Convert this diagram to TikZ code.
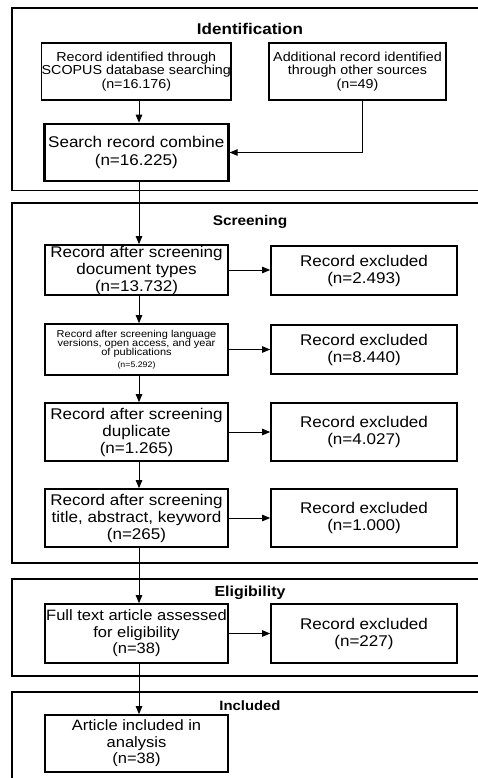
\documentclass[tikz,border=0pt]{standalone}
\usepackage{fontspec}
\setmainfont{Liberation Sans}[FakeStretch=1.1]
\usetikzlibrary{arrows.meta,calc}
\begin{document}
\begin{tikzpicture}[x=1pt,y=-1pt,
  frame/.style={draw, line width=1.1pt},
  box/.style={draw, line width=1.7pt, align=center, inner sep=0pt,
    font=\fontsize{15.5}{17}\selectfont},
  lcol/.style={minimum width=183pt},
  rcol/.style={minimum width=186pt},
  stitle/.style={font=\bfseries\fontsize{14.5}{16}\selectfont, inner sep=0pt},
  arr/.style={line width=0.9pt, -{Triangle[length=8pt,width=6.5pt]}}
]
\useasboundingbox (0,0) rectangle (478,778);
\clip (0,0) rectangle (478,778);

% section frames
\draw[frame] (12,8) rectangle (495,190.7);
\draw[frame] (12,203) rectangle (495,563);
\draw[frame] (12,579) rectangle (495,676);
\draw[frame] (12,692) rectangle (495,800);

\node[stitle, font=\bfseries\fontsize{15.5}{17}\selectfont] (tid) at (250,29) {Identification};
\node[stitle, font=\bfseries\fontsize{14}{16}\selectfont] (tsc) at (250,222) {Screening};
\node[stitle] (tel) at (250,593) {Eligibility};
\node[stitle, font=\bfseries\fontsize{13.5}{16}\selectfont] (tin) at (250,706) {Included};

% identification
\node[box, line width=1.4pt, minimum width=184pt, minimum height=57pt,
      font=\fontsize{13}{13.5}\selectfont] (b1) at (136.3,71.5)
  {Record identified through\\SCOPUS database searching\\(n=16.176)};
\node[box, line width=1.4pt, minimum width=177pt, minimum height=57pt,
      font=\fontsize{13}{13.5}\selectfont] (b2) at (357.5,71.5)
  {Additional record identified\\through other sources\\(n=49)};
\node[box, line width=2.6pt, minimum width=184pt, minimum height=57pt,
      font=\fontsize{15.5}{18}\selectfont] (sc) at (136.3,152.5)
  {Search record combine\\(n=16.225)};

% screening
\node[box, lcol, minimum height=50pt] (s1) at (136.5,270)
  {Record after screening\\document types\\(n=13.732)};
\node[box, rcol, minimum height=49pt] (e1) at (364,270.5)
  {Record excluded\\(n=2.493)};
\node[box, lcol, minimum height=51pt, font=\fontsize{10}{9.4}\selectfont] (s2) at (136.5,349.5)
  {Record after screening language\\versions, open access, and year\\of publications\\[2pt]{\fontsize{8}{8}\selectfont(n=5.292)}};
\node[box, rcol, minimum height=49pt] (e2) at (364,349.5)
  {Record excluded\\(n=8.440)};
\node[box, lcol, minimum height=58pt] (s3) at (136.5,432)
  {Record after screening\\duplicate\\(n=1.265)};
\node[box, rcol, minimum height=58pt] (e3) at (364,432)
  {Record excluded\\(n=4.027)};
\node[box, lcol, minimum height=58pt] (s4) at (136.5,518)
  {Record after screening\\title, abstract, keyword\\(n=265)};
\node[box, rcol, minimum height=58pt] (e4) at (364,518)
  {Record excluded\\(n=1.000)};

% eligibility
\node[box, lcol, minimum height=59pt, font=\fontsize{15}{16.5}\selectfont] (f1) at (136.5,633.5)
  {Full text article assessed\\for eligibility\\(n=38)};
\node[box, rcol, minimum height=59pt] (e5) at (364,633.5)
  {Record excluded\\(n=227)};

% included
\node[box, lcol, minimum height=57pt, font=\fontsize{15}{16.5}\selectfont] (a1) at (136.5,743.5)
  {Article included in\\analysis\\(n=38)};

% connectors
\coordinate (col) at (139,0);
\coordinate (c2) at (362,0);
\draw[arr] (b1.south -| col) -- (sc.north -| col);
\draw[arr] (b2.south -| c2) |- (sc.east);
\draw[arr] (sc.south -| col) -- (s1.north -| col);
\draw[arr] (s1.south -| col) -- (s2.north -| col);
\draw[arr] (s2.south -| col) -- (s3.north -| col);
\draw[arr] (s3.south -| col) -- (s4.north -| col);
\draw[arr] (s4.south -| col) -- (f1.north -| col);
\draw[arr] (f1.south -| col) -- (a1.north -| col);
\draw[arr] (s1.east) -- (s1.east -| e1.west);
\draw[arr] (s2.east) -- (s2.east -| e2.west);
\draw[arr] (s3.east) -- (s3.east -| e3.west);
\draw[arr] (s4.east) -- (s4.east -| e4.west);
\draw[arr] (f1.east) -- (f1.east -| e5.west);
\end{tikzpicture}
\end{document}
